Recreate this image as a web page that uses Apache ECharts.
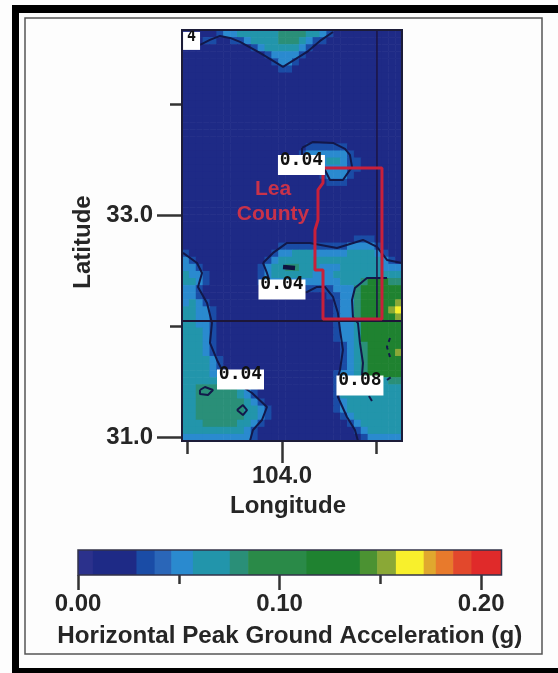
<!DOCTYPE html>
<html><head><meta charset="utf-8">
<style>html,body{margin:0;padding:0;background:#fff}#c{width:558px;height:673px;filter:blur(0.55px)}</style>
<script src="https://cdn.jsdelivr.net/npm/echarts@6/dist/echarts.min.js"></script>
</head><body><div id="c"></div>
<script>
// colour scale (g)
const scaleEdges=[0,.0074,.029,.038,.0463,.057,.0753,.0844,.1133,.1398,.1484,.1577,.1715,.1775,.1861,.1952,.2101];
const scaleColors=['#2b318c','#1e2a86','#1a4ca6','#2a66b8','#2a8acf','#2295ab','#2a8f78','#2a8a48','#1f8230','#4b9232','#8aa836','#f8f02c','#e0a82e','#e87a2c','#e2482c','#e02a2a'];
const scaleMajorTicks=[0,.1,.2];
const scaleMinorTicks=[.05,.15];
// value of each letter in the map rows (g)
const cellValues={a:.015,b:.033,c:.05,d:.065,e:.08,f:.12,g:.155,h:.165};
// map extent
const lonWest=105.058,lonEast=102.73,latNorth=34.663,latSouth=30.9685;
const mapRows=[
"aaaaabccddddddeeeeddcbaaaaaaaaaa",
"aaabbaabbcddddeeedcbbaaaaaaaaaaa",
"aaaaaaaaaabcdddddcbaaaaaaaaaaaaa",
"aaaaaaaaaaaabccccbaaaaaaaaaaaaaa",
"aaaaaaaaaaaaabccbaaaaaaaaaaaaaaa",
"aaaaaaaaaaaaaabbaaaaaaaaaaaaaaaa",
"aaaaaaaaaaaaaaaaaaaaaaaaaaaaaaaa",
"aaaaaaaaaaaaaaaaaaaaaaaaaaaaaaaa",
"aaaaaaaaaaaaaaaaaaaaaaaaaaaaaaaa",
"aaaaaaaaaaaaaaaaaaaaaaaaaaaaaaaa",
"aaaaaaaaaaaaaaaaaaaaaaaaaaaaaaaa",
"aaaaaaaaaaaaaaaaaaaaaaaaaaaaaaaa",
"aaaaaaaaaaaaaaaaaaaaaaaaaaaaaaaa",
"aaaaaaaaaaaaaaaaaaaaaaaaaaaaaaaa",
"aaaaaaaaaaaaaaaaaaaaaaaaaaaaaaaa",
"aaaaaaaaaaaaaaaaaaaaaaaaaaaaaaaa",
"aaaaaaaaaaaaaaaaaabbbbbbaaaaaaaa",
"aaaaaaaaaaaaaaaaabccccccbaaaaaaa",
"aaaaaaaaaaaaaaaaabcccddcbbaaaaaa",
"aaaaaaaaaaaaaaaaaabcccccbbaaaaaa",
"aaaaaaaaaaaaaaaaaaaabcccbaaaaaaa",
"aaaaaaaaaaaaaaaaaaaaabbbaaaaaaaa",
"aaaaaaaaaaaaaaaaaaaaaaaaaaaaaaaa",
"aaaaaaaaaaaaaaaaaaaaaaaaaaaaaaaa",
"aaaaaaaaaaaaaaaaaaaaaaaaaaaaaaaa",
"aaaaaaaaaaaaaaaaaaaaaaaaaaaaaaaa",
"aaaaaaaaaaaaaaaaaaaaaaaaaaaaaaaa",
"aaaaaaaaaaaaaaaaaaaaaaaaaaaaaaaa",
"aaaaaaaaaaaaaaaaaaaaaaaaaaaaaaaa",
"aaaaaaaaaaaaaaaaaaaaaaaaabbbaaaa",
"aaaaaaaaaaaaaabbbbbbbbbbccccbaaa",
"baaaaaaaaaaaabccdddcccccddddcbaa",
"cbaaaaaaaaaabcdddddddddddddddcba",
"ccbaaaaaaaabcddeedddcccddddddccc",
"dccbaaaaaaabcddddddcccdddddddddd",
"ddcbaaaaaaabcccccccccccdddefffee",
"ccbaaaaaaaaaaaaaaabbbbccceffffff",
"ccbaaaaaaaaaaaaaaaaaabbcceffffff",
"cdcbaaaaaaaaaaaaaaaaaabccefffffg",
"ddccbaaaaaaaaaaaaaaaaabcceffffgh",
"ddccbaaaaaaaaaaaaaaaaabccefffffg",
"ddccbaaaaaaaaaaaaaaaaabccdffffff",
"dddcbaaaaaaaaaaaaaaaaabccdffffff",
"dddcbaaaaaaaaaaaaaaaaabccdffffff",
"dddcbaaaaaaaaaaaaaaaaaabcdefffff",
"dddcbaaaaaaaaaaaaaaaaaabcdeffffg",
"ddddcbaaaaaaaaaaaaaaaaabcdefffff",
"ddddcbaaaaaaaaaaaaaaaaabcdefffff",
"ddddccbaaaaaaaaaaaaaaabccdefffff",
"ddddddddcbaaaaaaaaaaaabdddddddee",
"ddeeeeeedcbaaaaaaaaaaabddddddddd",
"ddeeeeeedcbaaaaaaaaaaabddddddddd",
"ddeeeeeeedcbaaaaaaaaaabcdddddddd",
"ddeeeeeeeddcbaaaaaaaaabcdddddddd",
"ddeeeeeeeddcbaaaaaaaaaabcddddddd",
"dddeeeeeddcbaaaaaaaaaaaabcdddddd",
"dddddddddcbaaaaaaaaaaaaaabcddddd",
"ccccccccccbaaaaaaaaaaaaaaabccccc"
];
const wedgeContour=[[104.868,34.529],[104.762,34.574],[104.656,34.61],[104.55,34.592],[104.444,34.556],[104.233,34.457],[103.989,34.331],[103.735,34.466],[103.598,34.565],[103.46,34.645]];
const blobContour=[[103.788,33.603],[103.672,33.657],[103.46,33.648],[103.333,33.594],[103.281,33.54],[103.259,33.432],[103.355,33.315],[103.492,33.315],[103.545,33.405],[103.788,33.5],[103.788,33.603]];
const centralTopContour=[[104.201,32.569],[104.095,32.659],[103.947,32.749],[103.704,32.749],[103.418,32.704],[103.143,32.776],[102.995,32.713],[102.889,32.596],[102.73,32.569]];
const centralLowContour=[[104.201,32.569],[104.159,32.479],[104.127,32.398],[103.81,32.299],[103.735,32.308],[103.63,32.353],[103.545,32.353],[103.46,32.263],[103.408,32.119],[103.386,31.966],[103.355,31.787],[103.386,31.607],[103.408,31.544],[103.408,31.364],[103.312,31.184],[103.228,31.067],[103.196,30.969]];
const leftContour=[[105.047,32.659],[104.899,32.569],[104.846,32.479],[104.889,32.353],[104.793,32.209],[104.741,32.029],[104.762,31.85],[104.688,31.697],[104.635,31.607],[104.444,31.472],[104.317,31.4],[104.159,31.274],[104.212,31.157],[104.307,31.067],[104.339,30.969]];
const greenContour=[[102.889,32.434],[103.101,32.434],[103.228,32.344],[103.259,32.236],[103.249,32.083],[103.196,32.029],[103.175,31.85],[103.143,31.67],[103.154,31.553]];
const ringWest=[[104.868,31.427],[104.815,31.454],[104.73,31.427],[104.783,31.382],[104.868,31.391],[104.868,31.427]];
const ringEast=[[104.476,31.247],[104.413,31.292],[104.37,31.247],[104.413,31.202],[104.476,31.247]];
const markSouth=[[103.08,31.373],[103.048,31.328]];
const markEast=[[102.889,31.517],[102.85,31.54]];
const dashedContour=[[102.857,31.894],[102.889,31.814],[102.857,31.724]];
const darkSpot=[[103.989,32.533],[103.862,32.524]];
const stateLineEW=[[105.058,32.047],[102.73,32.047]];
const stateLineNS=[[102.995,34.663],[102.995,32.047]];
const leaCounty=[[103.566,33.423],[102.942,33.423],[102.942,32.065],[103.566,32.065],[103.566,32.506],[103.651,32.506],[103.651,32.865],[103.619,32.955],[103.619,33.225],[103.566,33.288],[103.566,33.423]];
const contourLabels=[[103.794,33.45,'0.04'],[104,32.33,'0.04'],[104.439,31.521,'0.04'],[103.175,31.467,'0.08']];
const cornerLabel=[[104.957,34.565,'4']];
const countyLabel=[[104.095,33.118,'Lea\nCounty']];

const FONT='"Liberation Sans",Arial,sans-serif', INK='#262626';
function colorOf(v){for(let i=0;i<scaleColors.length;i++){if(v<scaleEdges[i+1])return scaleColors[i];}return scaleColors[scaleColors.length-1];}
const nCols=mapRows[0].length,nRows=mapRows.length;
const mapCells=[];
mapRows.forEach((row,r)=>{[...row].forEach((ch,c)=>{
  mapCells.push([lonWest+(lonEast-lonWest)*c/nCols,latNorth+(latSouth-latNorth)*r/nRows,lonWest+(lonEast-lonWest)*(c+1)/nCols,latNorth+(latSouth-latNorth)*(r+1)/nRows,cellValues[ch]]);
});});
const barCells=scaleColors.map((_,i)=>[scaleEdges[i],0,scaleEdges[i+1],1,scaleEdges[i]+1e-6]);
function renderCell(params,api){
  const p0=api.coord([api.value(0),api.value(1)]),p1=api.coord([api.value(2),api.value(3)]);
  const x=Math.min(p0[0],p1[0]),y=Math.min(p0[1],p1[1]);
  return {type:'rect',shape:{x:x,y:y,width:Math.abs(p1[0]-p0[0])+.6,height:Math.abs(p1[1]-p0[1])+.6},style:{fill:colorOf(api.value(4))}};
}
const cellSeries=(data,x,y,z)=>({type:'custom',xAxisIndex:x,yAxisIndex:y,data:data,renderItem:renderCell,encode:{x:[0,2],y:[1,3]},z:z,silent:true,animation:false,clip:true});
const lineOf=(pts,color,width,type,z)=>({type:'line',xAxisIndex:0,yAxisIndex:0,data:pts,showSymbol:false,silent:true,animation:false,z:z||3,lineStyle:{color:color,width:width,type:type||'solid'}});
const CONT='#12184a';
const mapX=(o)=>Object.assign({type:'value',gridIndex:0,inverse:true,min:lonEast,max:lonWest,position:'bottom',splitLine:{show:false},axisLine:{show:false},axisLabel:{show:false},z:1},o);
const mapY=(o)=>Object.assign({type:'value',gridIndex:0,min:latSouth,max:latNorth,position:'left',splitLine:{show:false},axisLine:{show:false},axisLabel:{show:false},z:1},o);
const tick=(len,vals)=>({show:true,length:len,customValues:vals,lineStyle:{color:'#333',width:2.5}});
const scatterBase={type:'scatter',xAxisIndex:0,yAxisIndex:0,silent:true,animation:false,z:6};
const option={
  animation:false,backgroundColor:'#fdfdfd',
  grid:[{left:182,top:30,width:220,height:411,containLabel:false},{left:78,top:550,width:423.5,height:25}],
  xAxis:[
    mapX({axisTick:tick(22,[104]),axisLabel:{show:true,customValues:[104],margin:23,formatter:v=>v.toFixed(1),fontFamily:FONT,fontWeight:'bold',fontSize:24,color:INK},name:'Longitude',nameLocation:'middle',nameGap:53,nameTextStyle:{fontFamily:FONT,fontWeight:'bold',fontSize:24,color:INK,padding:[0,8,0,0]}}),
    mapX({axisTick:tick(13,[103,105])}),
    {type:'value',gridIndex:1,position:'bottom',min:0,max:.2101,splitLine:{show:false},axisLine:{show:false},axisTick:tick(15,scaleMajorTicks),axisLabel:{show:true,customValues:scaleMajorTicks,margin:17,formatter:v=>v.toFixed(2),fontFamily:FONT,fontWeight:'bold',fontSize:24,color:INK},name:'Horizontal Peak Ground Acceleration (g)',nameLocation:'middle',nameGap:49,nameTextStyle:{fontFamily:FONT,fontWeight:'bold',fontSize:24.2,color:INK}},
    {type:'value',gridIndex:1,position:'bottom',min:0,max:.2101,splitLine:{show:false},axisLine:{show:false},axisLabel:{show:false},axisTick:tick(9,scaleMinorTicks)}
  ],
  yAxis:[
    mapY({axisTick:tick(25,[31,33]),axisLabel:{show:true,customValues:[31,33],margin:29,formatter:v=>v.toFixed(1),fontFamily:FONT,fontWeight:'bold',fontSize:24,color:INK},name:'Latitude',nameLocation:'middle',nameGap:87,nameTextStyle:{fontFamily:FONT,fontWeight:'bold',fontSize:24,color:INK,padding:[0,13,0,0]}}),
    mapY({axisTick:tick(12,[32,34])}),
    {type:'value',gridIndex:1,min:0,max:1,show:false}
  ],
  graphic:[
    {type:'rect',shape:{x:12,y:5,width:546,height:8},style:{fill:'#000'},z:0},
    {type:'rect',shape:{x:12,y:5,width:7,height:668},style:{fill:'#000'},z:0},
    {type:'rect',shape:{x:12,y:668,width:546,height:5},style:{fill:'#000'},z:0},
    {type:'rect',shape:{x:25,y:18,width:517,height:636},style:{fill:'none',stroke:'#555',lineWidth:1.5},z:0},
    {type:'rect',shape:{x:182,y:30,width:220,height:411},style:{fill:'none',stroke:'#1c1c38',lineWidth:2},z:50},
    {type:'rect',shape:{x:78,y:550,width:423.5,height:25},style:{fill:'none',stroke:'#33334a',lineWidth:1.5},z:50}
  ],
  series:[
    cellSeries(mapCells,0,0,1),
    cellSeries(barCells,2,2,1),
    ...[wedgeContour,blobContour,centralTopContour,centralLowContour,leftContour,greenContour,ringWest,ringEast,markSouth,markEast].map(c=>lineOf(c,CONT,2)),
    lineOf(dashedContour,CONT,2,[4,4]),
    lineOf(darkSpot,'#0e1440',4.5),
    lineOf(stateLineEW,'#1c1638',2),
    lineOf(stateLineNS,'#1c1648',1.6),
    lineOf(leaCounty,'#c8203a',3,'solid',4),
    Object.assign({},scatterBase,{data:contourLabels,symbol:'rect',symbolSize:[47,20],itemStyle:{color:'#fff',opacity:1},
      label:{show:true,position:'inside',offset:[0,-5],opacity:1,formatter:p=>p.value[2],fontFamily:'"DejaVu Sans Mono",monospace',fontWeight:'bold',fontSize:18,color:'#111'}}),
    Object.assign({},scatterBase,{data:cornerLabel,symbol:'rect',symbolSize:[17,18],itemStyle:{color:'#fff',opacity:1},
      label:{show:true,position:'inside',offset:[0,-4],opacity:1,formatter:p=>p.value[2],fontFamily:'"DejaVu Sans Mono",monospace',fontWeight:'bold',fontSize:15,color:'#111'}}),
    Object.assign({},scatterBase,{data:countyLabel,symbolSize:0,itemStyle:{opacity:1},
      label:{show:true,position:'inside',opacity:1,formatter:p=>p.value[2],fontFamily:FONT,fontWeight:'bold',fontSize:21,lineHeight:25,color:'#c8324a',align:'center'}})
  ]
};
echarts.init(document.getElementById('c'),null,{renderer:'canvas'}).setOption(option);
</script></body></html>
